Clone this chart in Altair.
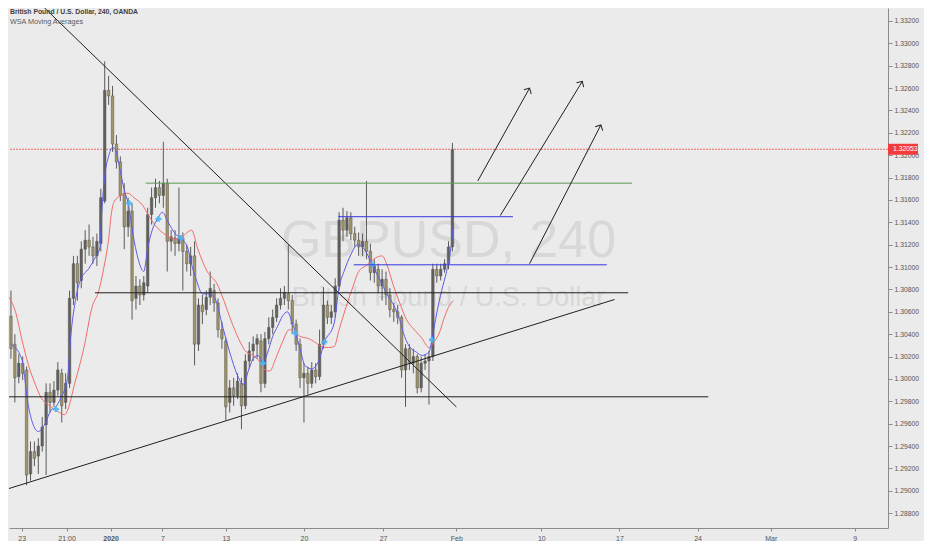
import json
import altair as alt
import pandas as pd

# ---------------- texts ----------------
title_text = "British Pound / U.S. Dollar, 240, OANDA"
indicator_text = "WSA Moving Averages"
watermark_symbol = "GBPUSD, 240"
watermark_name = "British Pound / U.S. Dollar"

# ---------------- 4h candles (bar index 0..113) ----------------
opens = [1.3056, 1.3031, 1.3002, 1.3014, 1.3008, 1.2915, 1.2935, 1.2931, 1.2940, 1.2959,
         1.2988, 1.2979, 1.2990, 1.3005, 1.2979, 1.2996, 1.3072, 1.3103, 1.3088, 1.3116,
         1.3124, 1.3118, 1.3110, 1.3121, 1.3159, 1.3258, 1.3253, 1.3210, 1.3194, 1.3166,
         1.3136, 1.3150, 1.3072, 1.3083, 1.3075, 1.3083, 1.3147, 1.3162, 1.3171, 1.3164,
         1.3175, 1.3123, 1.3126, 1.3121, 1.3126, 1.3114, 1.3103, 1.3110, 1.3031, 1.3066,
         1.3062, 1.3073, 1.3079, 1.3068, 1.3044, 1.3034, 1.2979, 1.2992, 1.2985, 1.2996,
         1.2976, 1.3016, 1.3025, 1.3031, 1.3034, 1.2996, 1.3036, 1.3046, 1.3055, 1.3066,
         1.3072, 1.3076, 1.3070, 1.3049, 1.3031, 1.3001, 1.3005, 1.2996, 1.3008, 1.3002,
         1.3031, 1.3066, 1.3055, 1.3060, 1.3083, 1.3142, 1.3133, 1.3144, 1.3130, 1.3124,
         1.3118, 1.3123, 1.3114, 1.3095, 1.3098, 1.3083, 1.3089, 1.3075, 1.3062, 1.3060,
         1.3055, 1.3008, 1.3027, 1.3014, 1.3020, 1.2992, 1.3014, 1.3016, 1.3020, 1.3098,
         1.3092, 1.3098, 1.3103, 1.3118]
highs = [1.3079, 1.3040, 1.3022, 1.3020, 1.3011, 1.2944, 1.2944, 1.2947, 1.2966, 1.2996,
         1.2996, 1.2998, 1.3015, 1.3009, 1.3005, 1.3079, 1.3110, 1.3110, 1.3123, 1.3133,
         1.3138, 1.3127, 1.3130, 1.3170, 1.3284, 1.3271, 1.3262, 1.3218, 1.3199, 1.3175,
         1.3162, 1.3157, 1.3092, 1.3089, 1.3092, 1.3153, 1.3171, 1.3179, 1.3177, 1.3212,
         1.3179, 1.3133, 1.3133, 1.3171, 1.3131, 1.3120, 1.3118, 1.3123, 1.3072, 1.3075,
         1.3079, 1.3096, 1.3085, 1.3072, 1.3051, 1.3037, 1.2999, 1.3001, 1.3005, 1.3001,
         1.3022, 1.3033, 1.3038, 1.3040, 1.3040, 1.3042, 1.3055, 1.3062, 1.3072, 1.3081,
         1.3083, 1.3120, 1.3075, 1.3053, 1.3036, 1.3014, 1.3011, 1.3015, 1.3014, 1.3044,
         1.3082, 1.3070, 1.3066, 1.3090, 1.3149, 1.3153, 1.3150, 1.3149, 1.3136, 1.3131,
         1.3130, 1.3177, 1.3121, 1.3107, 1.3103, 1.3098, 1.3096, 1.3081, 1.3068, 1.3066,
         1.3057, 1.3031, 1.3031, 1.3027, 1.3022, 1.3020, 1.3022, 1.3025, 1.3103, 1.3103,
         1.3103, 1.3107, 1.3123, 1.3211]
lows = [1.3018, 1.2979, 1.2996, 1.2999, 1.2905, 1.2909, 1.2922, 1.2915, 1.2935, 1.2914,
        1.2970, 1.2975, 1.2985, 1.2961, 1.2973, 1.2992, 1.3066, 1.3070, 1.3081, 1.3103,
        1.3110, 1.3103, 1.3101, 1.3114, 1.3157, 1.3245, 1.3203, 1.3188, 1.3159, 1.3116,
        1.3127, 1.3053, 1.3062, 1.3066, 1.3070, 1.3077, 1.3138, 1.3153, 1.3157, 1.3153,
        1.3096, 1.3114, 1.3110, 1.3114, 1.3079, 1.3096, 1.3092, 1.3012, 1.3025, 1.3049,
        1.3057, 1.3066, 1.3060, 1.3037, 1.3027, 1.2963, 1.2970, 1.2976, 1.2982, 1.2955,
        1.2973, 1.3009, 1.3016, 1.3018, 1.2988, 1.2992, 1.3031, 1.3040, 1.3051, 1.3062,
        1.3066, 1.3062, 1.3040, 1.3025, 1.2992, 1.2961, 1.2986, 1.2992, 1.2996, 1.2999,
        1.3027, 1.3049, 1.3049, 1.3055, 1.3079, 1.3123, 1.3127, 1.3124, 1.3118, 1.3110,
        1.3110, 1.3107, 1.3088, 1.3086, 1.3077, 1.3070, 1.3066, 1.3055, 1.3051, 1.3049,
        1.3001, 1.2975, 1.3008, 1.3005, 1.2987, 1.2988, 1.3008, 1.2977, 1.3016, 1.3086,
        1.3088, 1.3095, 1.3098, 1.3114]
closes = [1.3027, 1.3001, 1.3014, 1.3005, 1.2914, 1.2935, 1.2929, 1.2940, 1.2957, 1.2988,
          1.2979, 1.2990, 1.3008, 1.2976, 1.2996, 1.3072, 1.3103, 1.3086, 1.3116, 1.3124,
          1.3118, 1.3110, 1.3123, 1.3162, 1.3258, 1.3253, 1.3210, 1.3194, 1.3164, 1.3136,
          1.3150, 1.3070, 1.3083, 1.3075, 1.3086, 1.3147, 1.3162, 1.3171, 1.3164, 1.3175,
          1.3123, 1.3127, 1.3121, 1.3126, 1.3114, 1.3103, 1.3110, 1.3031, 1.3066, 1.3060,
          1.3073, 1.3081, 1.3068, 1.3044, 1.3036, 1.2975, 1.2992, 1.2985, 1.2998, 1.2976,
          1.3016, 1.3025, 1.3031, 1.3036, 1.2996, 1.3036, 1.3046, 1.3055, 1.3066, 1.3072,
          1.3077, 1.3070, 1.3049, 1.3031, 1.3001, 1.3005, 1.2996, 1.3008, 1.3002, 1.3031,
          1.3066, 1.3055, 1.3060, 1.3083, 1.3142, 1.3133, 1.3144, 1.3130, 1.3124, 1.3118,
          1.3123, 1.3114, 1.3095, 1.3101, 1.3083, 1.3089, 1.3075, 1.3062, 1.3060, 1.3055,
          1.3008, 1.3027, 1.3014, 1.3020, 1.2992, 1.3014, 1.3016, 1.3020, 1.3098, 1.3092,
          1.3098, 1.3103, 1.3118, 1.3205]
bar_index = list(range(len(opens)))

# ---------------- moving averages ----------------
blue_ma_idx = [0, 2.75, 4.5, 7, 8.75, 10.25, 11.5, 12.75, 14.5, 15.25, 16.5, 17.75, 20, 21.5,
               22.75, 23.25, 24, 25, 26, 26.75, 27.75, 29, 30, 31.25, 32.5, 34, 35, 36.25, 37.5,
               38.75, 40.25, 42, 43.75, 45.25, 46.5, 47.5, 49, 50.75, 52.5, 53.75, 55, 56.5,
               58.25, 59.5, 60.75, 62, 63.25, 64.5, 65.75, 67, 68.25, 69.5, 70.75, 72, 72.75,
               74, 75.25, 77, 78.75, 80.25, 82.75, 84, 85.25, 87, 88.75, 90.25, 92.5, 94.5,
               96.25, 98.25, 99.5, 100.75, 102, 103.75, 105.25, 107, 107.75, 109, 110.25,
               111.5, 112.5, 113.25]
blue_ma_val = [1.3031, 1.3018, 1.2975, 1.2953, 1.2960, 1.2972, 1.2975, 1.2983, 1.3001, 1.3036,
               1.3070, 1.3088, 1.3099, 1.3108, 1.3117, 1.3149, 1.3181, 1.3199, 1.3207, 1.3205,
               1.3190, 1.3169, 1.3157, 1.3129, 1.3108, 1.3096, 1.3117, 1.3134, 1.3143, 1.3149,
               1.3140, 1.3130, 1.3125, 1.3117, 1.3099, 1.3088, 1.3076, 1.3076, 1.3070, 1.3053,
               1.3036, 1.3018, 1.3001, 1.2995, 1.3007, 1.3018, 1.3021, 1.3014, 1.3024, 1.3038,
               1.3047, 1.3056, 1.3060, 1.3050, 1.3042, 1.3027, 1.3012, 1.3009, 1.3016, 1.3033,
               1.3050, 1.3082, 1.3096, 1.3111, 1.3120, 1.3117, 1.3102, 1.3088, 1.3076, 1.3064,
               1.3053, 1.3038, 1.3029, 1.3024, 1.3021, 1.3024, 1.3035, 1.3059, 1.3079, 1.3096,
               1.3114, 1.3138]
red_ma_idx = [-0.5, 1.25, 2.75, 4.5, 6.25, 7.75, 9.5, 11.5, 13.75, 14.5, 16.25, 18.75, 20.75,
              22.5, 23.75, 25, 25.75, 26.5, 28.25, 30, 31.5, 33.75, 35.25, 37, 39.5, 42, 43.75,
              46.25, 47.75, 50.25, 52.75, 54.5, 56.25, 58.25, 60.25, 62, 63.75, 65, 66.25,
              67.75, 69.5, 71.25, 72.75, 74, 76.25, 77.75, 79.5, 81.25, 82.75, 84, 85.75, 87.5,
              89, 91.25, 93.25, 95, 96.25, 97.75, 99.5, 101.25, 103.25, 105.25, 107, 108.25,
              109.75, 110.75, 112, 113.25]
red_ma_val = [1.3073, 1.3059, 1.3036, 1.3012, 1.2995, 1.2983, 1.2977, 1.2972, 1.2968, 1.2972,
              1.2995, 1.3029, 1.3064, 1.3079, 1.3099, 1.3125, 1.3149, 1.3159, 1.3164, 1.3166,
              1.3162, 1.3155, 1.3146, 1.3137, 1.3129, 1.3125, 1.3127, 1.3133, 1.3117, 1.3096,
              1.3085, 1.3070, 1.3053, 1.3036, 1.3024, 1.3021, 1.3015, 1.3008, 1.3007, 1.3018,
              1.3033, 1.3044, 1.3042, 1.3038, 1.3036, 1.3033, 1.3029, 1.3028, 1.3029, 1.3044,
              1.3064, 1.3082, 1.3096, 1.3102, 1.3108, 1.3110, 1.3102, 1.3085, 1.3068, 1.3053,
              1.3044, 1.3036, 1.3028, 1.3033, 1.3042, 1.3053, 1.3064, 1.3070]
cross_idx = [11.5, 30.25, 37.75, 43.5, 64.5, 72.75, 80.25, 92.5, 107.75]
cross_val = [1.2973, 1.3157, 1.3143, 1.3126, 1.3014, 1.3041, 1.3033, 1.3102, 1.3035]

last_price = [1.32053]
last_label = ["1.32053"]

# ---------------- drawings (bar index, price) ----------------
black_x1 = [8.5, -0.5, 21.5, -0.5]
black_y1 = [1.3332, 1.2902, 1.3077, 1.2984]
black_x2 = [114, 154.5, 158, 178.5]
black_y2 = [1.2975, 1.3071, 1.3077, 1.2984]
green_x1 = [34.5]
green_x2 = [159]
green_y = [1.3175]
blue_x1 = [83.75, 87.75]
blue_x2 = [128.5, 152.5]
blue_y = [1.3145, 1.3102]
arrow_x1 = [119.5, 125.25, 132.75]
arrow_y1 = [1.3177, 1.3146, 1.3103]
arrow_x2 = [132.75, 146.25, 151]
arrow_y2 = [1.3260, 1.3266, 1.3227]

# ---------------- axes ----------------
price_ticks = [1.288, 1.290, 1.292, 1.294, 1.296, 1.298, 1.300, 1.302, 1.304, 1.306, 1.308,
               1.310, 1.312, 1.314, 1.316, 1.318, 1.320, 1.322, 1.324, 1.326, 1.328, 1.330,
               1.332]
time_tick_pos = [2.75, 14.25, 25.5, 38.75, 55, 75, 95.25, 114, 135.75, 155.75, 175.75, 194.5, 216]
time_tick_labels = ["23", "21:00", "2020", "7", "13", "20", "27", "Feb", "10", "17", "24", "Mar", "9"]

# ---------------- styling ----------------
TOTAL_W, TOTAL_H = 916, 533
FONT = "Liberation Sans, Arial, sans-serif"
arrow_angles = [29, 32, 27]

xs = alt.Scale(domain=[-0.5, 224.5], nice=False, zero=False, padding=0)
ys = alt.Scale(domain=[1.28667, 1.33316], nice=False, zero=False)

label_expr = f"{json.dumps(time_tick_labels)}[indexof({json.dumps(time_tick_pos)}, datum.value)]"

x_axis = alt.Axis(values=time_tick_pos, labelExpr=label_expr, grid=False,
                  domainColor="#8c8c8c", tickColor="#8c8c8c", tickSize=3,
                  labelFontSize=7, labelColor="#555555", labelFont=FONT, labelPadding=3,
                  labelOverlap=False, labelFlush=False,
                  labelFontWeight={"condition": {"test": "datum.value == 25.5", "value": "bold"},
                                   "value": "normal"})
y_axis = alt.Axis(orient="right", values=price_ticks, format=".5f", grid=False,
                  domainColor="#8c8c8c", tickColor="#8c8c8c", tickSize=4,
                  labelFontSize=6.8, labelColor="#555555", labelFont=FONT, labelPadding=2,
                  labelOverlap=False, labelFlush=False)


def X(f):
    return alt.X(f, type="quantitative", scale=xs, axis=x_axis, title=None)


def Y(f):
    return alt.Y(f, type="quantitative", scale=ys, axis=y_axis, title=None)


# watermark (positioned relative to the plot size)
wm1 = alt.Chart(pd.DataFrame({"t": [watermark_symbol]})).mark_text(
    font="Liberation Sans", fontSize=52, color="#d8d8d8", align="center", baseline="middle",
    x={"expr": "width*0.5"}, y={"expr": "height*0.449"}
).encode(text="t:N")
wm2 = alt.Chart(pd.DataFrame({"t": [watermark_name]})).mark_text(
    font="Liberation Sans", fontSize=27, color="#d8d8d8", align="center", baseline="middle",
    x={"expr": "width*0.5"}, y={"expr": "height*0.558"}
).encode(text="t:N")

price_df = pd.DataFrame({"p": last_price, "lbl": last_label})
cur_line = alt.Chart(price_df).mark_rule(color="#f04a4a", strokeWidth=0.8, strokeDash=[2, 1]).encode(
    y=Y("p"))

cdf = pd.DataFrame({"i": bar_index, "o": opens, "h": highs, "l": lows, "c": closes})
cdf["dir"] = ["up" if c >= o else "down" for o, c in zip(opens, closes)]
wick = alt.Chart(cdf).mark_rule(color="#5a5a5a", strokeWidth=1).encode(
    x=X("i"), y=Y("l"), y2="h")
body = alt.Chart(cdf).mark_bar(size=2.5, stroke="#56544c", strokeWidth=0.5).encode(
    x=X("i"), y=Y("o"), y2="c",
    color=alt.Color("dir:N", scale=alt.Scale(domain=["up", "down"], range=["#606060", "#a29569"]),
                    legend=None))

red_ma = alt.Chart(pd.DataFrame({"i": red_ma_idx, "v": red_ma_val})).mark_line(
    color="#f26b6b", strokeWidth=1, interpolate="monotone", clip=True).encode(x=X("i"), y=Y("v"))
blue_ma = alt.Chart(pd.DataFrame({"i": blue_ma_idx, "v": blue_ma_val})).mark_line(
    color="#5b5be8", strokeWidth=1, interpolate="monotone").encode(x=X("i"), y=Y("v"))
cross = alt.Chart(pd.DataFrame({"i": cross_idx, "v": cross_val})).mark_point(
    shape="cross", filled=True, size=36, color="#4db6f2", opacity=0.9).encode(x=X("i"), y=Y("v"))

black = alt.Chart(pd.DataFrame({"x": black_x1, "y": black_y1, "x2": black_x2, "y2": black_y2})).mark_rule(
    color="#202020", strokeWidth=1, clip=True).encode(x=X("x"), y=Y("y"), x2="x2", y2="y2")
green = alt.Chart(pd.DataFrame({"x": green_x1, "x2": green_x2, "y": green_y})).mark_rule(
    color="#5e9a55", strokeWidth=1).encode(x=X("x"), x2="x2", y=Y("y"))
blue = alt.Chart(pd.DataFrame({"x": blue_x1, "x2": blue_x2, "y": blue_y})).mark_rule(
    color="#3535e0", strokeWidth=1).encode(x=X("x"), x2="x2", y=Y("y"))
arrows = alt.Chart(pd.DataFrame({"x": arrow_x1, "y": arrow_y1, "x2": arrow_x2, "y2": arrow_y2})).mark_rule(
    color="#202020", strokeWidth=1).encode(x=X("x"), y=Y("y"), x2="x2", y2="y2")

heads = []
for k in range(len(arrow_x2)):
    heads.append(alt.Chart(pd.DataFrame({"x": [arrow_x2[k]], "y": [arrow_y2[k]]})).mark_point(
        shape="M-1,1L0,0L1,1", filled=False, size=70, strokeWidth=1, color="#202020",
        opacity=1, angle=arrow_angles[k]).encode(x=X("x"), y=Y("y")))

t1 = alt.Chart(pd.DataFrame({"t": [title_text]})).mark_text(
    font=FONT, fontSize=6.8, fontWeight="bold", color="#404040", align="left", baseline="middle",
    x=1, y=4
).encode(text="t:N")
t2 = alt.Chart(pd.DataFrame({"t": [indicator_text]})).mark_text(
    font=FONT, fontSize=7.2, color="#5a5a5a", align="left", baseline="middle",
    x=1, y=14
).encode(text="t:N")

tag = alt.Chart(price_df).mark_rule(color="#f23b3b", strokeWidth=11,
                                    x={"expr": "width"}, x2={"expr": "width+30"}).encode(y=Y("p"))
tag_text = alt.Chart(price_df).mark_text(
    font=FONT, fontSize=6.8, color="#ffffff", align="left", baseline="middle",
    x={"expr": "width+5"}
).encode(y=Y("p"), text="lbl:N")

chart = alt.layer(
    wm1, wm2, cur_line, wick, body, red_ma, blue_ma, cross, black, green, blue, arrows,
    *heads, t1, t2, tag, tag_text
).properties(
    width=TOTAL_W, height=TOTAL_H, padding=0, background="#ebebeb",
    autosize=alt.AutoSizeParams(type="fit", contains="padding")
).configure_view(strokeWidth=0)

chart.save("out.html", embed_options={"renderer": "svg", "actions": False})
